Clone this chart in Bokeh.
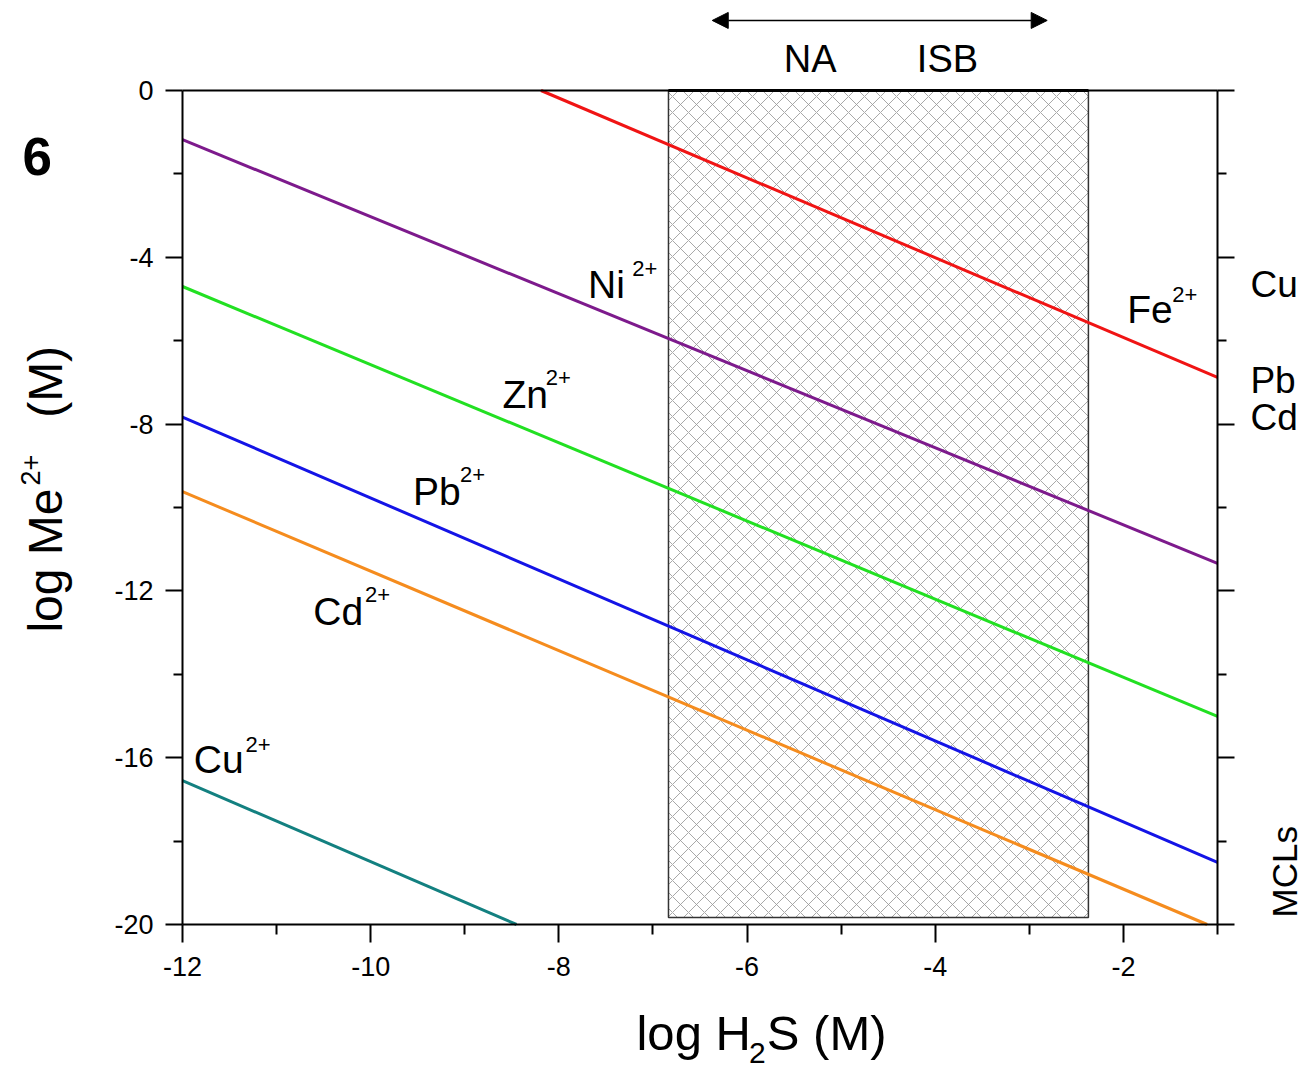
import math
from bokeh.plotting import figure
from bokeh.models import (Range1d, LinearAxis, FixedTicker, Label, Arrow,
                          NormalHead, ColumnDataSource)
from bokeh.embed import file_html
from bokeh.resources import INLINE

# ---------------- data ----------------
ions = ["Fe", "Ni", "Zn", "Pb", "Cd", "Cu"]
x_start = [-8.19, -12.0, -12.0, -12.0, -12.0, -12.0]
y_start = [0.0, -1.18, -4.70, -7.83, -9.62, -16.55]
x_end = [-1.0, -1.0, -1.0, -1.0, -1.11, -8.45]
y_end = [-6.88, -11.34, -15.01, -18.51, -20.0, -20.0]
line_colors = ["#f01414", "#7d1a8c", "#22e022", "#1414e6", "#f58c1e", "#138080"]

# in-plot ion labels (text baseline positions, superscript baseline positions)
label_ions = ["Ni", "Fe", "Zn", "Pb", "Cd", "Cu"]
label_x = [-7.69, -1.96, -8.60, -9.55, -10.61, -11.88]
label_y = [-4.99, -5.59, -7.63, -9.95, -12.83, -16.38]
sup_x = [-7.22, -1.48, -8.14, -9.05, -10.06, -11.33]
sup_y = [-4.46, -5.08, -7.07, -9.40, -12.28, -15.88]
sup_text = "2+"

# hatched NA / ISB range
zone_left, zone_right = -6.835, -2.372
zone_bottom, zone_top = -19.83, 0.0

# right-hand MCL labels
mcl_names = ["Cu", "Pb", "Cd"]
mcl_y = [-4.96, -7.27, -8.17]

# axes
x_min, x_max = -12.0, -1.0
y_min, y_max = -20.0, 0.0
x_major = [-12, -10, -8, -6, -4, -2]
x_minor = [-11, -9, -7, -5, -3, -1]
y_major = [0, -4, -8, -12, -16, -20]
y_minor = [-2, -6, -10, -14, -18]

FONT = "Liberation Sans"
W, H = 1307, 1072
# plotting box inside the canvas (pixels)
BOX_L, BOX_R, BOX_T, BOX_B = 182, 1217, 90, 924
sx = (BOX_R - BOX_L) / (x_max - x_min)
sy = (BOX_B - BOX_T) / (y_max - y_min)
xr = Range1d(x_min - BOX_L / sx, x_max + (W - BOX_R) / sx)
yr = Range1d(y_min - (H - BOX_B) / sy, y_max + BOX_T / sy)

# the renderer centres label glyphs on their anchor; shift anchors so that
# the given coordinates are the text baselines
SHIFT = 0.36


def label(text, x, y, fs, angle=0.0, align="left", style="normal"):
    if angle == 0.0:
        ya = y + SHIFT * fs / sy
        xa = x
    else:
        xa = x - SHIFT * fs / sx
        ya = y
    return Label(x=xa, y=ya, text=text, angle=angle, text_font=FONT,
                 text_font_size=f"{fs}px", text_font_style=style,
                 text_align=align, text_baseline="alphabetic", text_color="black")


p = figure(width=W, height=H, x_range=xr, y_range=yr,
           output_backend="svg", toolbar_location=None,
           min_border=0, min_border_left=0, min_border_right=0,
           min_border_top=0, min_border_bottom=0,
           x_axis_location=None, y_axis_location=None)
p.xgrid.visible = False
p.ygrid.visible = False
p.outline_line_color = None
p.background_fill_color = "white"
p.border_fill_color = "white"

# hatched zone
p.quad(left=[zone_left], right=[zone_right], bottom=[zone_bottom], top=[zone_top],
       fill_color="white", fill_alpha=0, line_color="#333333", line_width=1.5,
       hatch_pattern="diagonal_cross", hatch_color="#999999", hatch_scale=16,
       hatch_weight=1, hatch_alpha=0.85)
p.segment(x0=[zone_left], x1=[zone_right], y0=[zone_top], y1=[zone_top],
          line_color="black", line_width=3)

# lines
src = ColumnDataSource(dict(x0=x_start, y0=y_start, x1=x_end, y1=y_end, c=line_colors))
p.segment(x0="x0", y0="y0", x1="x1", y1="y1", line_color="c", line_width=3, source=src)


# axes
def make_axis(ticks, minors, loc, bounds, labels=True, tick_out=17, minor_out=9):
    ax = LinearAxis(fixed_location=loc, bounds=bounds)
    ax.ticker = FixedTicker(ticks=ticks, minor_ticks=minors)
    ax.axis_line_width = 2
    ax.major_tick_line_width = 2
    ax.minor_tick_line_width = 2
    ax.major_tick_in = 0
    ax.minor_tick_in = 0
    ax.major_tick_out = tick_out
    ax.minor_tick_out = minor_out
    ax.major_label_text_font = FONT
    ax.major_label_text_font_size = "27px"
    ax.major_label_text_color = "black"
    if labels:
        ax.major_label_overrides = {t: str(t) for t in ticks}
    else:
        ax.major_label_overrides = {t: "" for t in ticks}
    return ax


bottom = make_axis(x_major, x_minor, y_min, (x_min, x_max), tick_out=18, minor_out=10)
bottom.major_label_standoff = 14
p.add_layout(bottom, "below")

top = make_axis([], [], y_max, (x_min, x_max), labels=False, tick_out=0, minor_out=0)
p.add_layout(top, "above")

left = make_axis(y_major, y_minor, x_min, (y_min, y_max))
left.major_label_standoff = 12
p.add_layout(left, "left")

right = make_axis(y_major, y_minor, x_max, (y_min, y_max), labels=False)
p.add_layout(right, "right")

# ion labels
for t, lx, ly, sxp, syp in zip(label_ions, label_x, label_y, sup_x, sup_y):
    p.add_layout(label(t, lx, ly, 39))
    p.add_layout(label(sup_text, sxp, syp, 22))

# MCL labels on the right
for t, y in zip(mcl_names, mcl_y):
    p.add_layout(label(t, -0.65, y, 37))
p.add_layout(label("MCLs", -0.15, -19.83, 35, angle=math.pi / 2))

# top arrow and NA / ISB
p.add_layout(Arrow(start=NormalHead(size=16, fill_color="black", line_color="black"),
                   end=NormalHead(size=16, fill_color="black", line_color="black"),
                   x_start=-6.37, y_start=1.68, x_end=-2.81, y_end=1.68,
                   line_width=1.5, line_color="black"))
p.add_layout(label("NA", -5.33, 0.43, 38, align="center"))
p.add_layout(label("ISB", -3.87, 0.43, 38, align="center"))

# panel number
p.add_layout(label("6", -13.70, -2.04, 53, style="bold"))

# x-axis title pieces: log H2S (M)
p.add_layout(label("log H", -7.175, -23.02, 49))
p.add_layout(label("2", -5.98, -23.33, 30))
p.add_layout(label("S (M)", -5.79, -23.02, 49))

# y-axis title pieces: log Me2+ (M)
p.add_layout(label("log Me", -13.275, -13.0, 48, angle=math.pi / 2))
p.add_layout(label("2+", -13.51, -9.47, 27, angle=math.pi / 2))
p.add_layout(label("(M)", -13.275, -7.85, 48, angle=math.pi / 2))

open("out.html", "w").write(file_html(p, INLINE))
